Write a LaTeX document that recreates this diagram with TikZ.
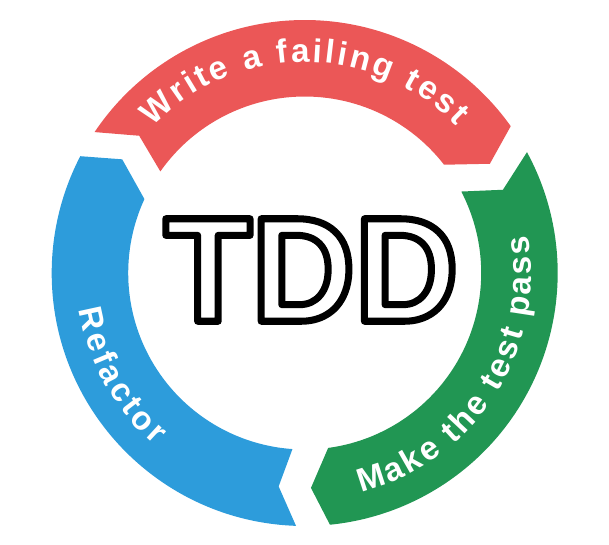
\documentclass[tikz,border=0pt]{standalone}
\usepackage{fontspec}
\setmainfont{Liberation Sans}
\newfontfamily\tddfam{Liberation Sans}[FakeStretch=0.96]
\usetikzlibrary{decorations.text}
\definecolor{redc}{HTML}{EB5757}
\definecolor{greenc}{HTML}{219653}
\definecolor{bluec}{HTML}{2D9CDB}
\newcommand\arctextfont{\fontsize{33}{40}\selectfont\bfseries}
\newcommand\tddfont{\tddfam\fontsize{149}{170}\selectfont\bfseries}
\newcommand\outlinetext[1]{\special{pdf:literal direct 0 0 0 RG 2 Tr 7 w 1 j}#1\special{pdf:literal direct 0 Tr}}
\begin{document}
\begin{tikzpicture}[x=1pt,y=1pt,
  tddtext/.style={inner sep=0pt, outer sep=0pt, font=\tddfont, text=white},
  arclabel/.style={decorate, decoration={text along path, text align={fit to path}, text color=white}}]
\useasboundingbox (-304.7,-271) rectangle (304.3,273);
% red segment: Write a failing test
\fill[redc] (146.15:253pt) arc[start angle=146.15, end angle=35.47, radius=253pt]
  -- (30.54:215pt) -- (37.84:176.5pt)
  arc[start angle=37.84, end angle=144.87, radius=176.5pt]
  -- (140.33:215pt) -- cycle;
% green segment: Make the test pass
\fill[greenc] (28.53:253pt) arc[start angle=28.53, end angle=-84.27, radius=253pt]
  -- (-88.33:215pt) -- (-82.36:176.5pt)
  arc[start angle=-82.36, end angle=27.49, radius=176.5pt]
  -- (22.78:215pt) -- cycle;
% blue segment: Refactor
\fill[bluec] (268.03:253pt) arc[start angle=268.03, end angle=152.5, radius=253pt]
  -- (148.08:215pt) -- (155.24:176.5pt)
  arc[start angle=155.24, end angle=266.02, radius=176.5pt]
  -- (263.04:215pt) -- cycle;
% labels along the arcs
\path[arclabel, decoration={text={|\arctextfont|Write a failing test}}]
  (136:211pt) arc[start angle=136, end angle=44, radius=211pt];
\path[arclabel, decoration={text={|\arctextfont|Make the test pass}}]
  (-75.5:226.5pt) arc[start angle=-75.5, end angle=9.6, radius=226.5pt];
\path[arclabel, decoration={text={|\arctextfont|Refactor}}]
  (189.3:228.5pt) arc[start angle=189.3, end angle=228.9, radius=228.5pt];
% outlined TDD
\node[tddtext] (tdd) at (6.5,3) {\outlinetext{TDD}};
\end{tikzpicture}
\end{document}
